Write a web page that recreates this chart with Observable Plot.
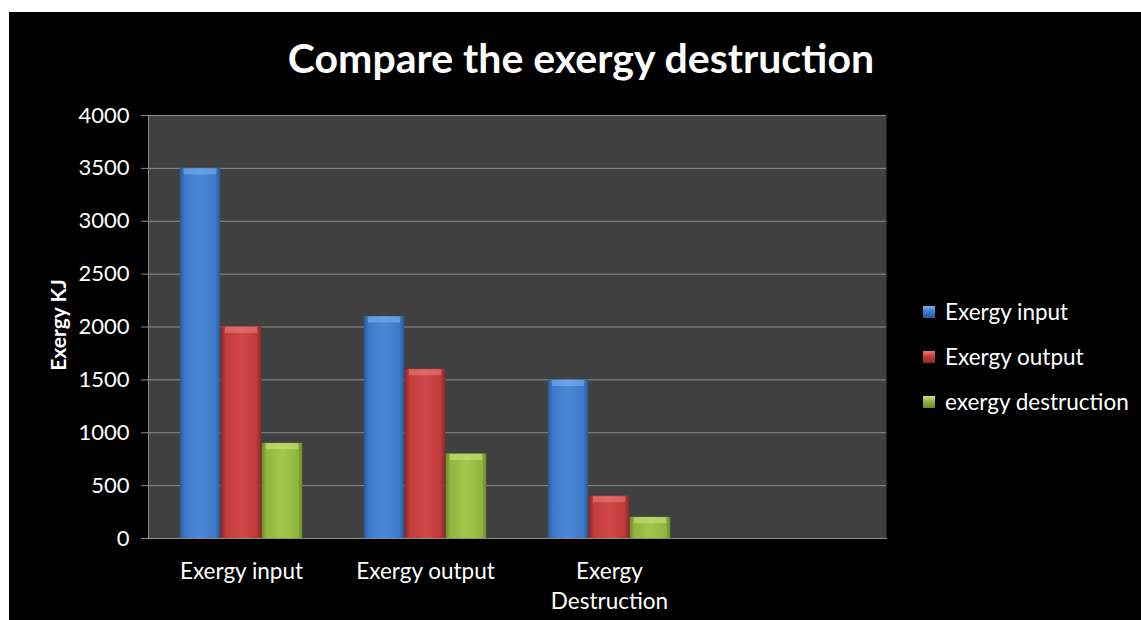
<!DOCTYPE html>
<html><head><meta charset="utf-8">
<script src="https://cdn.jsdelivr.net/npm/d3@7"></script>
<script src="https://cdn.jsdelivr.net/npm/@observablehq/plot@0.6"></script>
<style>
html,body{margin:0;padding:0;}
body{background:#fff;width:1141px;height:620px;overflow:hidden;font-family:Lato,"Open Sans",sans-serif;position:relative;}
#card{position:absolute;left:9px;top:12px;width:1132px;height:608px;background:#000;}
#title{position:absolute;left:6px;top:22px;width:1132px;text-align:center;color:#fff;font-weight:bold;font-size:41px;line-height:48px;}
#chart{position:absolute;left:0;top:78px;}
#ylabel{position:absolute;left:48px;top:313px;width:0;height:0;}
#ylabel span{position:absolute;left:0;top:0;transform:translate(-50%,-50%) rotate(-90deg);white-space:nowrap;color:#fff;font-weight:bold;font-size:21px;}
#legend{position:absolute;left:914px;top:277px;color:#fff;font-size:22.5px;}
.item{display:flex;align-items:center;height:45px;}
.sw{width:12px;height:12px;margin-right:10px;}
</style></head>
<body>
<div id="card">
  <div id="title">Compare the exergy destruction</div>
  <div id="chart"></div>
  <div id="ylabel"><span>Exergy KJ</span></div>
  <div id="legend"></div>
</div>
<script>
const categories = ["Exergy input", "Exergy output", "Exergy Destruction", ""];
const seriesNames = ["Exergy input", "Exergy output", "exergy destruction"];
const exergyInput = [3500, 2100, 1500];
const exergyOutput = [2000, 1600, 400];
const exergyDestruction = [900, 800, 200];
const yTicks = [0, 500, 1000, 1500, 2000, 2500, 3000, 3500, 4000];
const seriesColors = ["#3c7bcb", "#c23c3c", "#93b540"];

const seriesValues = [exergyInput, exergyOutput, exergyDestruction];
const rows = [];
seriesValues.forEach((vals, k) => vals.forEach((v, i) => rows.push({category: categories[i], series: seriesNames[k], value: v})));

const W = 880, H = 530, mL = 139, mR = 3, mT = 25, mB = 82;
const bw = (W - mL - mR) / categories.length;
const barW = bw / 4.5;
const off = (bw - 3 * barW) / 2;

const grads = [
  ["#2a5894", "#3b78c6", "#4b89d8"],
  ["#8e2828", "#c03a3a", "#d24848"],
  ["#6a8a26", "#92b53e", "#a3c64c"]
];
const bevel = ["#7fb0ee", "#ec7c7c", "#c6e27a"];

const marks = [
  Plot.frame({fill: "#404040"}),
  Plot.gridY(yTicks, {stroke: "#8c8c8c", strokeOpacity: 1}),
];
seriesNames.forEach((s, k) => {
  const data = rows.filter(d => d.series === s);
  const iL = off + k * barW, iR = bw - off - (k + 1) * barW;
  marks.push(Plot.barY(data, {x: "category", y: "value", fill: `url(#grad${k})`, insetLeft: iL, insetRight: iR}));
  marks.push(Plot.tickY(data, {x: "category", y: "value", stroke: bevel[k], strokeWidth: 6, strokeOpacity: 0.6, dy: 3, insetLeft: iL + 4, insetRight: iR + 4}));
});
marks.push(
  Plot.frame({anchor: "left", stroke: "#8c8c8c"}),
  Plot.frame({anchor: "bottom", stroke: "#8c8c8c"}),
  Plot.axisY(yTicks, {tickSize: 7, tickPadding: 12, stroke: "#8c8c8c", fill: "#fff", fontSize: 22, label: null, tickFormat: d3.format("d")}),
  Plot.axisX({tickSize: 0, tickPadding: 20, fill: "#fff", fontSize: 22.5, lineHeight: 1.3, label: null,
              tickFormat: d => d === "Exergy Destruction" ? "Exergy\nDestruction" : d})
);

const chart = Plot.plot({
  width: W, height: H,
  marginLeft: mL, marginRight: mR, marginTop: mT, marginBottom: mB,
  style: {background: "transparent", color: "#fff", fontFamily: "Lato, 'Open Sans', sans-serif"},
  x: {domain: categories, padding: 0, axis: null},
  y: {domain: [0, 4000], axis: null},
  marks
});

const defs = d3.select(chart).insert("defs", ":first-child");
grads.forEach((g, k) => {
  const lg = defs.append("linearGradient").attr("id", `grad${k}`).attr("x1", "0").attr("x2", "1").attr("y1", "0").attr("y2", "0");
  [[0, g[0]], [0.12, g[1]], [0.5, g[2]], [0.88, g[1]], [1, g[0]]].forEach(([o, c]) =>
    lg.append("stop").attr("offset", o).attr("stop-color", c));
});
document.getElementById("chart").appendChild(chart);

const legend = d3.select("#legend");
seriesNames.forEach((s, k) => {
  const it = legend.append("div").attr("class", "item");
  it.append("div").attr("class", "sw").style("background", `linear-gradient(to bottom, ${bevel[k]} 0%, ${seriesColors[k]} 45%, ${grads[k][0]} 100%)`);
  it.append("span").text(s);
});
</script>
</body></html>
